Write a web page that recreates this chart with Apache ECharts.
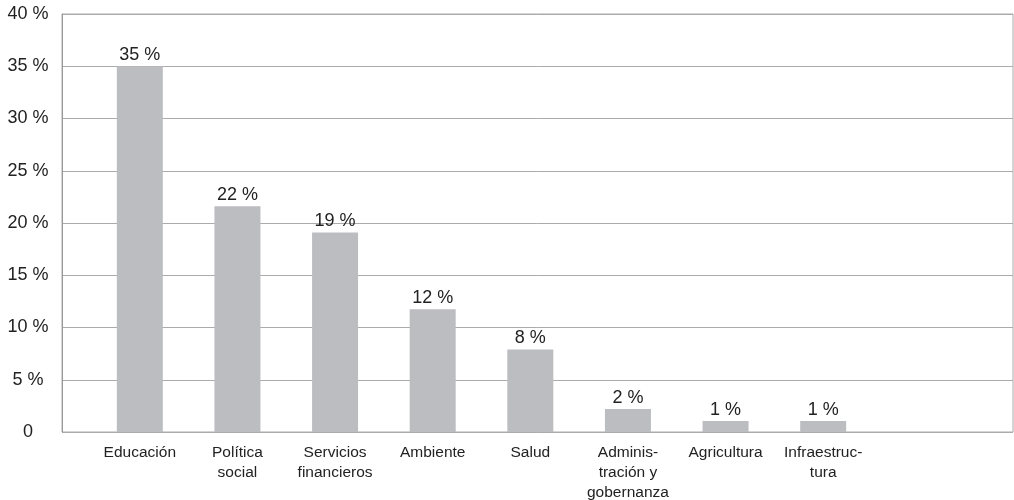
<!DOCTYPE html>
<html>
<head>
<meta charset="utf-8">
<script src="https://cdn.jsdelivr.net/npm/echarts@6/dist/echarts.min.js"></script>
<style>
html,body{margin:0;padding:0;background:#fff;}
#c{width:1014px;height:500px;}
</style>
</head>
<body>
<div id="c"></div>
<script>
const categories = ['Educación', 'Política\nsocial', 'Servicios\nfinancieros', 'Ambiente', 'Salud', 'Adminis-\ntración y\ngobernanza', 'Agricultura', 'Infraestruc-\ntura'];
const values = [35, 21.6, 19.1, 11.75, 7.9, 2.2, 1.05, 1.05];
const valueLabels = ['35 %', '22 %', '19 %', '12 %', '8 %', '2 %', '1 %', '1 %'];
const yTicks = [0, 5, 10, 15, 20, 25, 30, 35, 40];

const FONT = '"Liberation Sans", Arial, sans-serif';
const chart = echarts.init(document.getElementById('c'), null, {renderer: 'canvas'});
chart.setOption({
  animation: false,
  backgroundColor: '#fff',
  grid: [
    {left: 62, right: 1, top: 14, bottom: 68, show: true, borderColor: '#aaaaaa', borderWidth: 1, backgroundColor: 'transparent', containLabel: false, outerBoundsMode: 'none'},
    {left: 91, right: 142, top: 14, bottom: 68, containLabel: false, outerBoundsMode: 'none'}
  ],
  xAxis: [
    {type: 'category', gridIndex: 0, show: false, data: ['']},
    {type: 'category', gridIndex: 1, data: categories,
     axisLine: {show: false}, axisTick: {show: false},
     axisLabel: {interval: 0, fontFamily: FONT, fontSize: 15.5, color: '#222', lineHeight: 20, margin: 11}}
  ],
  yAxis: [
    {type: 'value', gridIndex: 0, min: yTicks[0], max: yTicks[yTicks.length - 1], interval: 5,
     axisLine: {show: true, lineStyle: {color: '#999999', width: 1}},
     axisTick: {show: false},
     splitLine: {show: true, lineStyle: {color: '#ababab', width: 1}},
     axisLabel: {fontFamily: FONT, fontSize: 18, color: '#222', align: 'center', margin: 34,
                 formatter: v => v === 0 ? '0' : v + ' %'}},
    {type: 'value', gridIndex: 1, min: yTicks[0], max: yTicks[yTicks.length - 1], interval: 5, show: false, splitLine: {show: false}}
  ],
  series: [{
    type: 'bar', xAxisIndex: 1, yAxisIndex: 1,
    data: values, barWidth: 46,
    itemStyle: {color: '#bcbdc0'},
    label: {show: true, position: 'top', distance: 2, fontFamily: FONT, fontSize: 18, color: '#222',
            formatter: p => valueLabels[p.dataIndex]}
  }, {
    type: 'line', xAxisIndex: 0, yAxisIndex: 0, data: [], silent: true
  }]
});
</script>
</body>
</html>
